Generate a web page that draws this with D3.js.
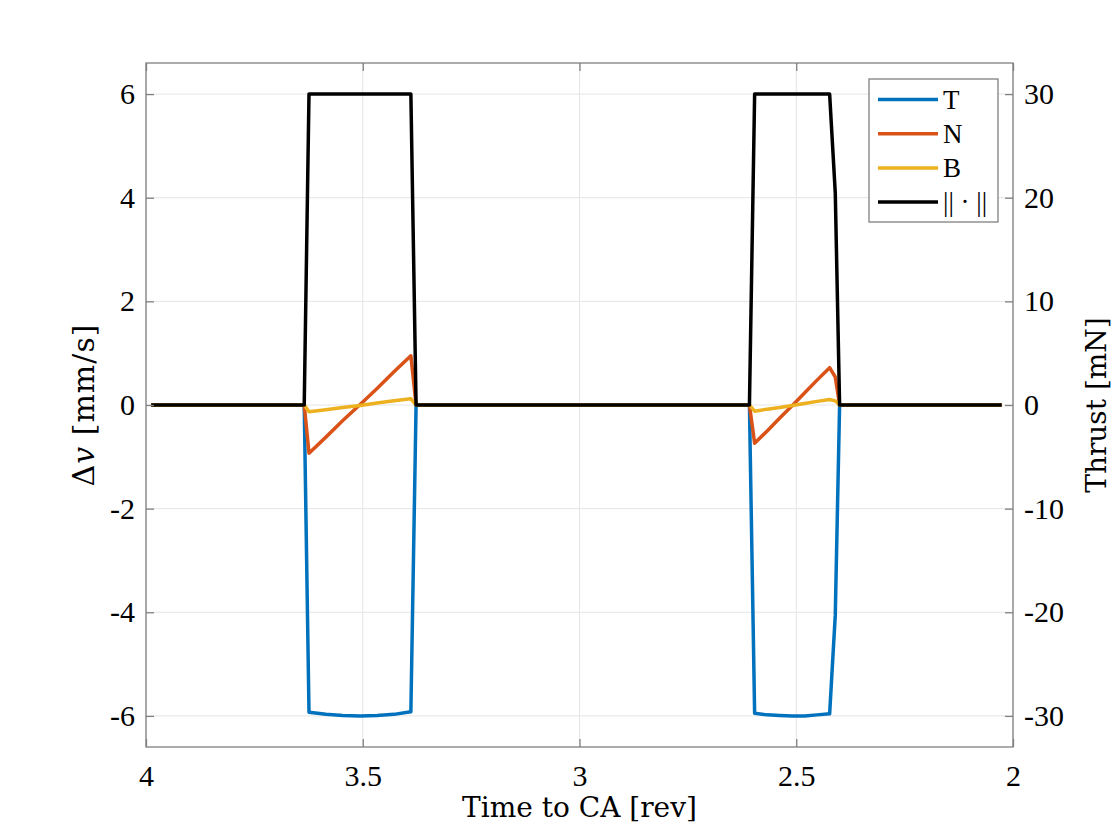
<!DOCTYPE html>
<html>
<head>
<meta charset="utf-8">
<script src="https://cdn.jsdelivr.net/npm/d3@7"></script>
<style>
  body { margin: 0; background: #fff; }
  svg text { font-family: "Liberation Serif", "DejaVu Serif", serif; fill: #000; }
  .lbl { font-family: "DejaVu Serif", "Liberation Serif", serif; }
</style>
</head>
<body>
<svg id="chart" width="1120" height="840"></svg>
<script>
// time to closest approach [rev], and components of delta-v [mm/s]
var timeRev = [3.988, 3.635, 3.624, 3.585, 3.546, 3.506, 3.467, 3.428, 3.389, 3.377,
               2.608, 2.596, 2.567, 2.538, 2.509, 2.481, 2.452, 2.423, 2.410, 2.400, 2.026];
var dvT    = [0, 0, -5.93, -5.97, -5.99, -6.00, -5.99, -5.97, -5.92, 0,
              0, -5.95, -5.98, -5.99, -6.00, -6.00, -5.98, -5.96, -4.06, 0, 0];
var dvN    = [0, 0, -0.93, -0.62, -0.30, 0.01, 0.32, 0.64, 0.95, 0,
              0, -0.74, -0.50, -0.25, -0.01, 0.23, 0.48, 0.72, 0.54, 0, 0];
var dvB    = [0, 0, -0.13, -0.09, -0.05, -0.01, 0.04, 0.08, 0.12, 0,
              0, -0.12, -0.08, -0.05, -0.01, 0.03, 0.07, 0.105, 0.08, 0, 0];
var dvNorm = [0, 0, 6, 6, 6, 6, 6, 6, 6, 0,
              0, 6, 6, 6, 6, 6, 6, 6, 4.1, 0, 0];

var seriesNames  = ["T", "N", "B", "norm"];
var seriesColors = ["#0072bd", "#d95319", "#edb120", "#000000"];

var xTicks  = [4, 3.5, 3, 2.5, 2];
var yTicks  = [-6, -4, -2, 0, 2, 4, 6];
var y2Ticks = [-30, -20, -10, 0, 10, 20, 30];

(function() {
var svg = d3.select("#chart");
var pL = 146, pR = 1013, pT = 63, pB = 747;

var x  = d3.scaleLinear().domain([4, 2]).range([pL, pR]);
var y  = d3.scaleLinear().domain([-6.6, 6.6]).range([pB, pT]);
var y2 = d3.scaleLinear().domain([-33, 33]).range([pB, pT]);

var axisColor = "#808080", gridColor = "#e5e5e5";

// grid
var grid = svg.append("g");
grid.selectAll(".gx").data(xTicks).enter().append("line")
    .attr("x1", function(d) { return x(d); }).attr("x2", function(d) { return x(d); })
    .attr("y1", pT).attr("y2", pB)
    .style("stroke", gridColor).style("stroke-width", 1);
grid.selectAll(".gy").data(yTicks).enter().append("line")
    .attr("y1", function(d) { return y(d); }).attr("y2", function(d) { return y(d); })
    .attr("x1", pL).attr("x2", pR)
    .style("stroke", gridColor).style("stroke-width", 1);

// lines
var series = [dvT, dvN, dvB, dvNorm];
var line = d3.line()
    .x(function(d) { return x(d[0]); })
    .y(function(d) { return y(d[1]); });

series.forEach(function(vals, k) {
    svg.append("path")
        .datum(d3.zip(timeRev, vals))
        .attr("d", line)
        .style("fill", "none")
        .style("stroke", seriesColors[k])
        .style("stroke-width", 3.5)
        .style("stroke-linejoin", "round");
});

// axes, ticks inward
var tl = 8;
var xBottom = svg.append("g").attr("transform", "translate(0," + pB + ")")
    .call(d3.axisBottom(x).tickValues(xTicks).tickSizeInner(-tl).tickSizeOuter(0).tickPadding(18)
        .tickFormat(function(d) { return String(d); }));
var xTop = svg.append("g").attr("transform", "translate(0," + pT + ")")
    .call(d3.axisTop(x).tickValues(xTicks).tickSizeInner(-tl).tickSizeOuter(0).tickFormat(""));
var yLeft = svg.append("g").attr("transform", "translate(" + pL + ",0)")
    .call(d3.axisLeft(y).tickValues(yTicks).tickSizeInner(-tl).tickSizeOuter(0).tickPadding(11)
        .tickFormat(function(d) { return String(d); }));
var yRight = svg.append("g").attr("transform", "translate(" + pR + ",0)")
    .call(d3.axisRight(y2).tickValues(y2Ticks).tickSizeInner(-tl).tickSizeOuter(0).tickPadding(11)
        .tickFormat(function(d) { return String(d); }));

[xBottom, xTop, yLeft, yRight].forEach(function(a) {
    a.attr("font-family", null).attr("font-size", null);
    a.select(".domain").remove();
    a.selectAll(".tick line").style("stroke", axisColor).style("stroke-width", 1.3);
    a.selectAll(".tick text")
        .style("font-family", "'Liberation Serif', serif")
        .style("font-size", "30px").style("fill", "#000");
});

// frame
svg.append("rect")
    .attr("x", pL).attr("y", pT)
    .attr("width", pR - pL).attr("height", pB - pT)
    .style("fill", "none").style("stroke", axisColor).style("stroke-width", 1.3);

// labels
svg.append("text").attr("class", "lbl")
    .attr("x", (pL + pR) / 2).attr("y", 817)
    .attr("text-anchor", "middle")
    .style("font-size", "28px")
    .text("Time to CA [rev]");

var yl = svg.append("text").attr("class", "lbl")
    .attr("transform", "translate(94," + (pT + pB) / 2 + ") rotate(-90)")
    .attr("text-anchor", "middle")
    .style("font-size", "30px")
    .style("letter-spacing", "1px");
yl.append("tspan").text("\u0394");
yl.append("tspan").style("font-style", "italic").text("v");
yl.append("tspan").text(" [mm/s]");

svg.append("text").attr("class", "lbl")
    .attr("transform", "translate(1106," + (pT + pB) / 2 + ") rotate(-90)")
    .attr("text-anchor", "middle")
    .style("font-size", "28px")
    .text("Thrust [mN]");

// legend
var lg = svg.append("g").attr("transform", "translate(869,79)");
lg.append("rect")
    .attr("width", 129).attr("height", 143)
    .style("fill", "#fff").style("stroke", axisColor).style("stroke-width", 1.3);
seriesNames.forEach(function(name, k) {
    var ry = 20.5 + k * 34.2;
    lg.append("line")
        .attr("x1", 9).attr("x2", 69).attr("y1", ry).attr("y2", ry)
        .style("stroke", seriesColors[k]).style("stroke-width", 3.5);
    lg.append("text")
        .attr("x", 74).attr("y", ry + 9)
        .style("font-size", "27px")
        .text(name === "norm" ? "|| \u00b7 ||" : name);
});
})();
</script>
</body>
</html>
